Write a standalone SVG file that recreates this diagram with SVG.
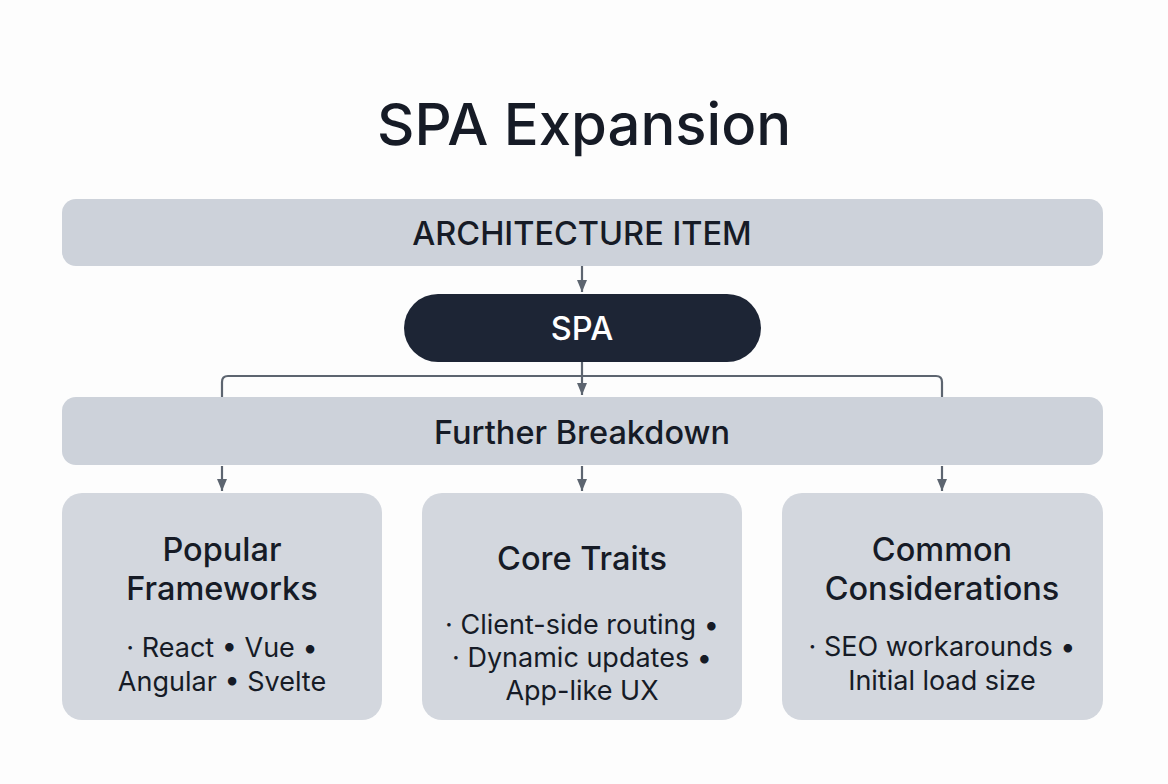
<svg xmlns="http://www.w3.org/2000/svg" width="1168" height="784" viewBox="0 0 1168 784">
<defs>
<style>
.bar{fill:#cdd2da}
.box{fill:#d3d7de}
.t{font-family:Inter,"Liberation Sans",sans-serif;fill:#161b26;text-anchor:middle}
.h{font-size:32.5px;font-weight:500}
.b{font-size:27px}
.line{stroke:#5d6570;stroke-width:2.2;fill:none}
</style>
<marker id="ah" viewBox="0 0 12 10" refX="12" refY="5" markerWidth="12" markerHeight="13" markerUnits="userSpaceOnUse" orient="auto"><path d="M0,0 L12,5 L0,10 z" fill="#5d6570"/></marker>
</defs>
<rect width="1168" height="784" fill="#fdfdfd"/>
<text class="t" x="584" y="145" font-size="58" font-weight="500">SPA Expansion</text>
<g id="connectors">
<path class="line" d="M582,266 V292" marker-end="url(#ah)"/>
<path class="line" d="M582,362 V395" marker-end="url(#ah)"/>
<path class="line" d="M222,397 V382 Q222,376 228,376 H936 Q942,376 942,382 V397"/>
<path class="line" d="M222,466 V491" marker-end="url(#ah)"/>
<path class="line" d="M582,466 V491" marker-end="url(#ah)"/>
<path class="line" d="M942,466 V491" marker-end="url(#ah)"/>
</g>
<g id="arch"><rect class="bar" x="62" y="199" width="1041" height="67" rx="14"/><text class="t h" x="582" y="245">ARCHITECTURE ITEM</text></g>
<g id="spa"><rect x="404" y="294" width="357" height="68" rx="34" fill="#1d2535"/><text class="t h" x="582" y="340" style="fill:#fff">SPA</text></g>
<g id="further"><rect class="bar" x="62" y="397" width="1041" height="68" rx="14"/><text class="t h" x="582" y="444">Further Breakdown</text></g>
<g id="popular"><rect class="box" x="62" y="493" width="320" height="227" rx="20"/>
<text class="t h" x="222" y="561">Popular</text>
<text class="t h" x="222" y="600">Frameworks</text>
<text class="t b" x="222" y="657">· React • Vue •</text>
<text class="t b" x="222" y="691">Angular • Svelte</text></g>
<g id="core"><rect class="box" x="422" y="493" width="320" height="227" rx="20"/>
<text class="t h" x="582" y="570">Core Traits</text>
<text class="t b" x="582" y="634">· Client-side routing •</text>
<text class="t b" x="582" y="667">· Dynamic updates •</text>
<text class="t b" x="582" y="700">App-like UX</text></g>
<g id="common"><rect class="box" x="782" y="493" width="321" height="227" rx="20"/>
<text class="t h" x="942" y="561">Common</text>
<text class="t h" x="942" y="600">Considerations</text>
<text class="t b" x="942" y="656">· SEO workarounds •</text>
<text class="t b" x="942" y="690">Initial load size</text></g>
</svg>
